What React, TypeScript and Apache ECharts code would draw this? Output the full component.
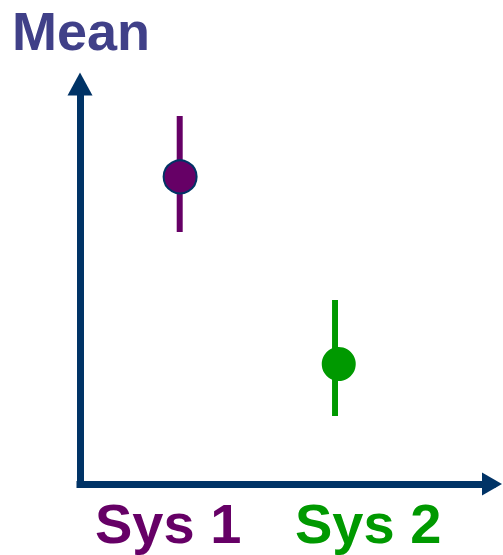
import React, { useEffect, useRef } from "react";
import * as echarts from "echarts";

const systems = ["Sys 1", "Sys 2"];
const barX = [2.42, 6.19];
const meanX = [2.43, 6.28];
const means = [7.68, 3.0];
const lows = [6.3, 1.7];
const highs = [9.2, 4.6];
const colors = ["#660066", "#009900"];
const borderColors = ["#003366", "#009900"];

export default function App() {
  const ref = useRef<HTMLDivElement>(null);
  useEffect(() => {
    if (!ref.current) return;
    const chart = echarts.init(ref.current, null, { renderer: "svg" });
    const font = "'Liberation Sans', Arial, sans-serif";
    const axisColor = "#003366";
    chart.setOption({
      animation: false,
      backgroundColor: "#ffffff",
      grid: { left: 80, right: 11, top: 84, bottom: 71 },
      xAxis: {
        type: "value",
        min: 0,
        max: 10,
        splitLine: { show: false },
        axisTick: { show: false },
        axisLabel: { show: false },
        axisLine: {
          show: true,
          symbol: ["none", "triangle"],
          symbolSize: [23, 20],
          lineStyle: { color: axisColor, width: 7, cap: "square" },
        },
      },
      yAxis: {
        type: "value",
        min: 0,
        max: 10,
        splitLine: { show: false },
        axisTick: { show: false },
        axisLabel: { show: false },
        axisLine: {
          show: true,
          symbol: ["none", "triangle"],
          symbolSize: [25, 23],
          lineStyle: { color: axisColor, width: 7, cap: "square" },
        },
      },
      graphic: [
        {
          type: "text",
          style: {
            x: 12,
            y: 4,
            text: "Mean",
            fill: "#404088",
            font: `bold 54px ${font}`,
            textBaseline: "top",
          },
        },
        ...systems.map((s, i) => ({
          type: "text",
          style: {
            x: i === 0 ? 95 : 295,
            y: 495,
            text: s,
            fill: colors[i],
            font: `bold 56px ${font}`,
            textBaseline: "top",
          },
        })),
      ],
      series: [
        {
          type: "custom",
          data: systems.map((_, i) => [barX[i], lows[i], highs[i]]),
          renderItem: (params: any, api: any) => {
            const p1 = api.coord([api.value(0), api.value(1)]);
            const p2 = api.coord([api.value(0), api.value(2)]);
            return {
              type: "line",
              shape: { x1: p1[0], y1: p1[1], x2: p2[0], y2: p2[1] },
              style: { stroke: colors[params.dataIndex], lineWidth: 6 },
            };
          },
          z: 2,
        },
        {
          type: "scatter",
          data: systems.map((_, i) => ({
            value: [meanX[i], means[i]],
            symbolSize: i === 0 ? 33 : 34,
            itemStyle: {
              color: colors[i],
              borderColor: borderColors[i],
              borderWidth: i === 0 ? 2 : 0,
              opacity: 1,
            },
          })),
          z: 3,
        },
      ],
    });
    return () => chart.dispose();
  }, []);
  return (
    <div
      ref={ref}
      style={{ position: "fixed", left: 0, top: 0, width: 503, height: 555 }}
    />
  );
}
